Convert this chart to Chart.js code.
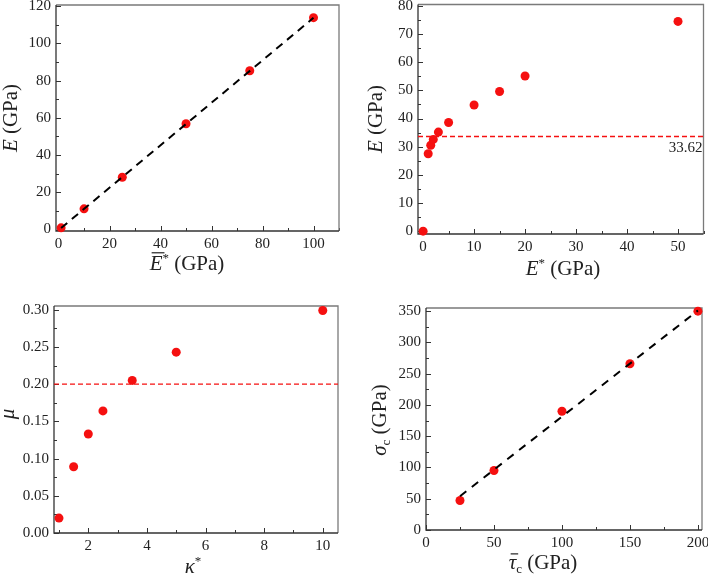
<!DOCTYPE html>
<html>
<head>
<meta charset="utf-8">
<script src="https://cdn.jsdelivr.net/npm/chart.js@4/dist/chart.umd.min.js"></script>
<style>
  body { margin: 0; background: #fff; }
  #wrap { position: relative; width: 708px; height: 574px; }
  canvas { position: absolute; }
</style>
</head>
<body>
<div id="wrap">
  <canvas id="c1" width="354" height="287" style="left:0;top:0"></canvas>
  <canvas id="c2" width="354" height="287" style="left:354px;top:0"></canvas>
  <canvas id="c3" width="354" height="287" style="left:0;top:287px"></canvas>
  <canvas id="c4" width="354" height="287" style="left:354px;top:287px"></canvas>
</div>
<script>
// panel 1: E vs E-bar*
const p1X = [1, 10, 25, 50, 75, 100];
const p1Y = [0.9, 11.1, 28.1, 56.8, 85.3, 113.8];
const p1FitX = [1, 100];
const p1FitY = [0.8, 113.7];
const p1XTicks = [0, 20, 40, 60, 80, 100];
const p1YTicks = [0, 20, 40, 60, 80, 100, 120];

// panel 2: E vs E*
const p2X = [0, 1, 1.5, 2, 3, 5, 10, 15, 20, 50];
const p2Y = [0, 27.5, 30.5, 32.6, 35.2, 38.6, 44.8, 49.6, 55.1, 74.5];
const p2Ref = 33.62;
const p2XTicks = [0, 10, 20, 30, 40, 50];
const p2YTicks = [0, 10, 20, 30, 40, 50, 60, 70, 80];

// panel 3: mu vs kappa*
const p3X = [1, 1.5, 2, 2.5, 3.5, 5, 10];
const p3Y = [0.020, 0.089, 0.133, 0.164, 0.205, 0.243, 0.299];
const p3Ref = 0.20;
const p3XTicks = [2, 4, 6, 8, 10];
const p3YTicks = [0, 0.05, 0.10, 0.15, 0.20, 0.25, 0.30];

// panel 4: sigma_c vs tau-bar_c
const p4X = [25, 50, 100, 150, 200];
const p4Y = [47.2, 95.1, 189.9, 265.9, 350];
const p4FitX = [25, 200];
const p4FitY = [54, 351];
const p4XTicks = [0, 50, 100, 150, 200];
const p4YTicks = [0, 50, 100, 150, 200, 250, 300, 350];

const SERIF = "'Liberation Serif'";
const RED = 'rgb(245,16,16)';
const INK = '#222';

function pts(xs, ys) { return xs.map((x, i) => ({ x, y: ys[i] })); }

// draws a label made of styled pieces (italic, super/subscript, overline)
function rich(ctx, segs, cx, base, rotated) {
  ctx.save();
  ctx.translate(cx, base);
  if (rotated) ctx.rotate(-Math.PI / 2);
  ctx.fillStyle = INK;
  ctx.strokeStyle = INK;
  ctx.textBaseline = 'alphabetic';
  ctx.textAlign = 'left';
  const font = s => `${s.it ? 'italic ' : ''}${s.sz || 21}px ${SERIF}`;
  let total = 0;
  segs.forEach(s => { ctx.font = font(s); s.w = ctx.measureText(s.t).width; total += s.w; });
  let x = -total / 2;
  segs.forEach(s => {
    ctx.font = font(s);
    ctx.fillText(s.t, x, s.dy || 0);
    if (s.over) {
      const y = -(s.sz || 21) * s.over;
      ctx.lineWidth = 1.2;
      ctx.beginPath();
      ctx.moveTo(x + 2, y);
      ctx.lineTo(x + s.w + 2, y);
      ctx.stroke();
    }
    x += s.w;
  });
  ctx.restore();
}

const framePlugin = {
  id: 'frame',
  beforeDatasetsDraw(chart) {
    const { ctx, chartArea: a, scales } = chart;
    ctx.save();
    ctx.strokeStyle = '#333';
    ctx.lineWidth = 1;
    ['x', 'y'].forEach(id => {
      const s = scales[id];
      const step = s.ticks[1].value - s.ticks[0].value;
      const half = step / 2;
      for (let i = Math.ceil(s.min / half - 1e-9); i * half <= s.max + 1e-9; i++) {
        const len = i % 2 === 0 ? 5 : 3;
        const p = Math.round(s.getPixelForValue(i * half)) + 0.5;
        ctx.beginPath();
        if (id === 'x') { ctx.moveTo(p, a.bottom); ctx.lineTo(p, a.bottom - len); }
        else { ctx.moveTo(a.left, p); ctx.lineTo(a.left + len, p); }
        ctx.stroke();
      }
    });
    ctx.lineWidth = 1.3;
    ctx.strokeStyle = '#7a7a7a';
    ctx.beginPath();
    ctx.moveTo(a.left, a.top); ctx.lineTo(a.right, a.top); ctx.lineTo(a.right, a.bottom);
    ctx.stroke();
    ctx.strokeStyle = '#333';
    ctx.beginPath();
    ctx.moveTo(a.left, a.top); ctx.lineTo(a.left, a.bottom); ctx.lineTo(a.right, a.bottom);
    ctx.stroke();
    ctx.restore();
  },
  afterDraw(chart, args, opts) {
    const { ctx } = chart;
    if (opts.note) {
      const y = chart.scales.y.getPixelForValue(opts.note.value);
      ctx.save();
      ctx.font = `15px ${SERIF}`;
      ctx.fillStyle = INK;
      ctx.textAlign = 'right';
      ctx.fillText(opts.note.text, chart.chartArea.right - 1, y + 15.5);
      ctx.restore();
    }
    if (opts.xTitle) rich(ctx, opts.xTitle.segs, opts.xTitle.c, opts.xTitle.b, false);
    if (opts.yTitle) rich(ctx, opts.yTitle.segs, opts.yTitle.b, opts.yTitle.c, true);
  }
};

function axis(pos, min, max, ticks, size, fmt) {
  return {
    type: 'linear', position: pos, min, max,
    grid: { display: false, drawTicks: false },
    border: { display: false },
    ticks: {
      color: INK, padding: pos === 'left' ? 5 : 4, autoSkip: false, maxRotation: 0,
      font: { family: 'Liberation Serif', size: 15 },
      callback: fmt || (v => String(v))
    },
    afterBuildTicks: s => { s.ticks = ticks.map(v => ({ value: v })); },
    afterFit: s => {
      if (pos === 'left') s.width = size; else s.height = size;
      s.paddingLeft = s.paddingRight = s.paddingTop = s.paddingBottom = 0;
    }
  };
}

function dots(xs, ys) {
  return {
    type: 'scatter', data: pts(xs, ys), showLine: false,
    pointRadius: 4.5, pointBackgroundColor: RED, pointBorderWidth: 0, clip: false
  };
}

function dashed(xs, ys, color, width, dash) {
  return {
    type: 'line', data: pts(xs, ys), showLine: true, fill: false,
    borderColor: color, borderWidth: width, borderDash: dash, pointRadius: 0, clip: false
  };
}

function makeChart(id, datasets, scales, padding, frame) {
  new Chart(document.getElementById(id), {
    type: 'scatter',
    data: { datasets },
    options: {
      responsive: false, animation: false,
      layout: { padding },
      scales,
      plugins: { legend: { display: false }, tooltip: { enabled: false }, frame }
    },
    plugins: [framePlugin]
  });
}

const gpa = { t: ' (GPa)' };

// panel 1
const p1XRange = [-1, 110], p1YRange = [-0.8, 120.6];
makeChart('c1',
  [dashed(p1FitX, p1FitY, '#000', 2, [8, 6]), dots(p1X, p1Y)],
  { x: axis('bottom', p1XRange[0], p1XRange[1], p1XTicks, 56),
    y: axis('left', p1YRange[0], p1YRange[1], p1YTicks, 56) },
  { left: 0, top: 5, right: 15, bottom: 0 },
  { xTitle: { c: 187, b: 270, segs: [{ t: 'E', it: 1, over: 0.82 }, { t: '*', sz: 13, dy: -8 }, gpa] },
    yTitle: { c: 118, b: 17, segs: [{ t: 'E', it: 1 }, gpa] } });

// panel 2
const p2XRange = [-1, 55], p2YRange = [-1, 80.5];
makeChart('c2',
  [dashed(p2XRange, [p2Ref, p2Ref], RED, 1.3, [5, 3]), dots(p2X, p2Y)],
  { x: axis('bottom', p2XRange[0], p2XRange[1], p2XTicks, 53),
    y: axis('left', p2YRange[0], p2YRange[1], p2YTicks, 64) },
  { left: 0, top: 4, right: 1, bottom: 0 },
  { note: { value: p2Ref, text: String(p2Ref) },
    xTitle: { c: 209, b: 275, segs: [{ t: 'E', it: 1 }, { t: '*', sz: 13, dy: -8 }, gpa] },
    yTitle: { c: 119, b: 28, segs: [{ t: 'E', it: 1 }, gpa] } });

// panel 3
const p3XRange = [0.83, 10.52], p3YRange = [0, 0.305];
makeChart('c3',
  [dashed(p3XRange, [p3Ref, p3Ref], RED, 1.3, [5, 3]), dots(p3X, p3Y)],
  { x: axis('bottom', p3XRange[0], p3XRange[1], p3XTicks, 41),
    y: axis('left', p3YRange[0], p3YRange[1], p3YTicks, 54, v => v.toFixed(2)) },
  { left: 0, top: 19, right: 16, bottom: 0 },
  { xTitle: { c: 193, b: 286, segs: [{ t: 'κ', it: 1 }, { t: '*', sz: 13, dy: -8 }] },
    yTitle: { c: 127, b: 14, segs: [{ t: 'μ', it: 1 }] } });

// panel 4
const p4XRange = [0, 203], p4YRange = [0, 355];
makeChart('c4',
  [dashed(p4FitX, p4FitY, '#000', 2, [8, 7]), dots(p4X, p4Y)],
  { x: axis('bottom', p4XRange[0], p4XRange[1], p4XTicks, 44),
    y: axis('left', p4YRange[0], p4YRange[1], p4YTicks, 72) },
  { left: 0, top: 21, right: 6, bottom: 0 },
  { xTitle: { c: 189, b: 282, segs: [{ t: 'τ', it: 1, over: 0.72 }, { t: 'c', sz: 13, dy: 4 }, gpa] },
    yTitle: { c: 133, b: 32, segs: [{ t: 'σ', it: 1 }, { t: 'c', sz: 13, dy: 4 }, gpa] } });
</script>
</body>
</html>
